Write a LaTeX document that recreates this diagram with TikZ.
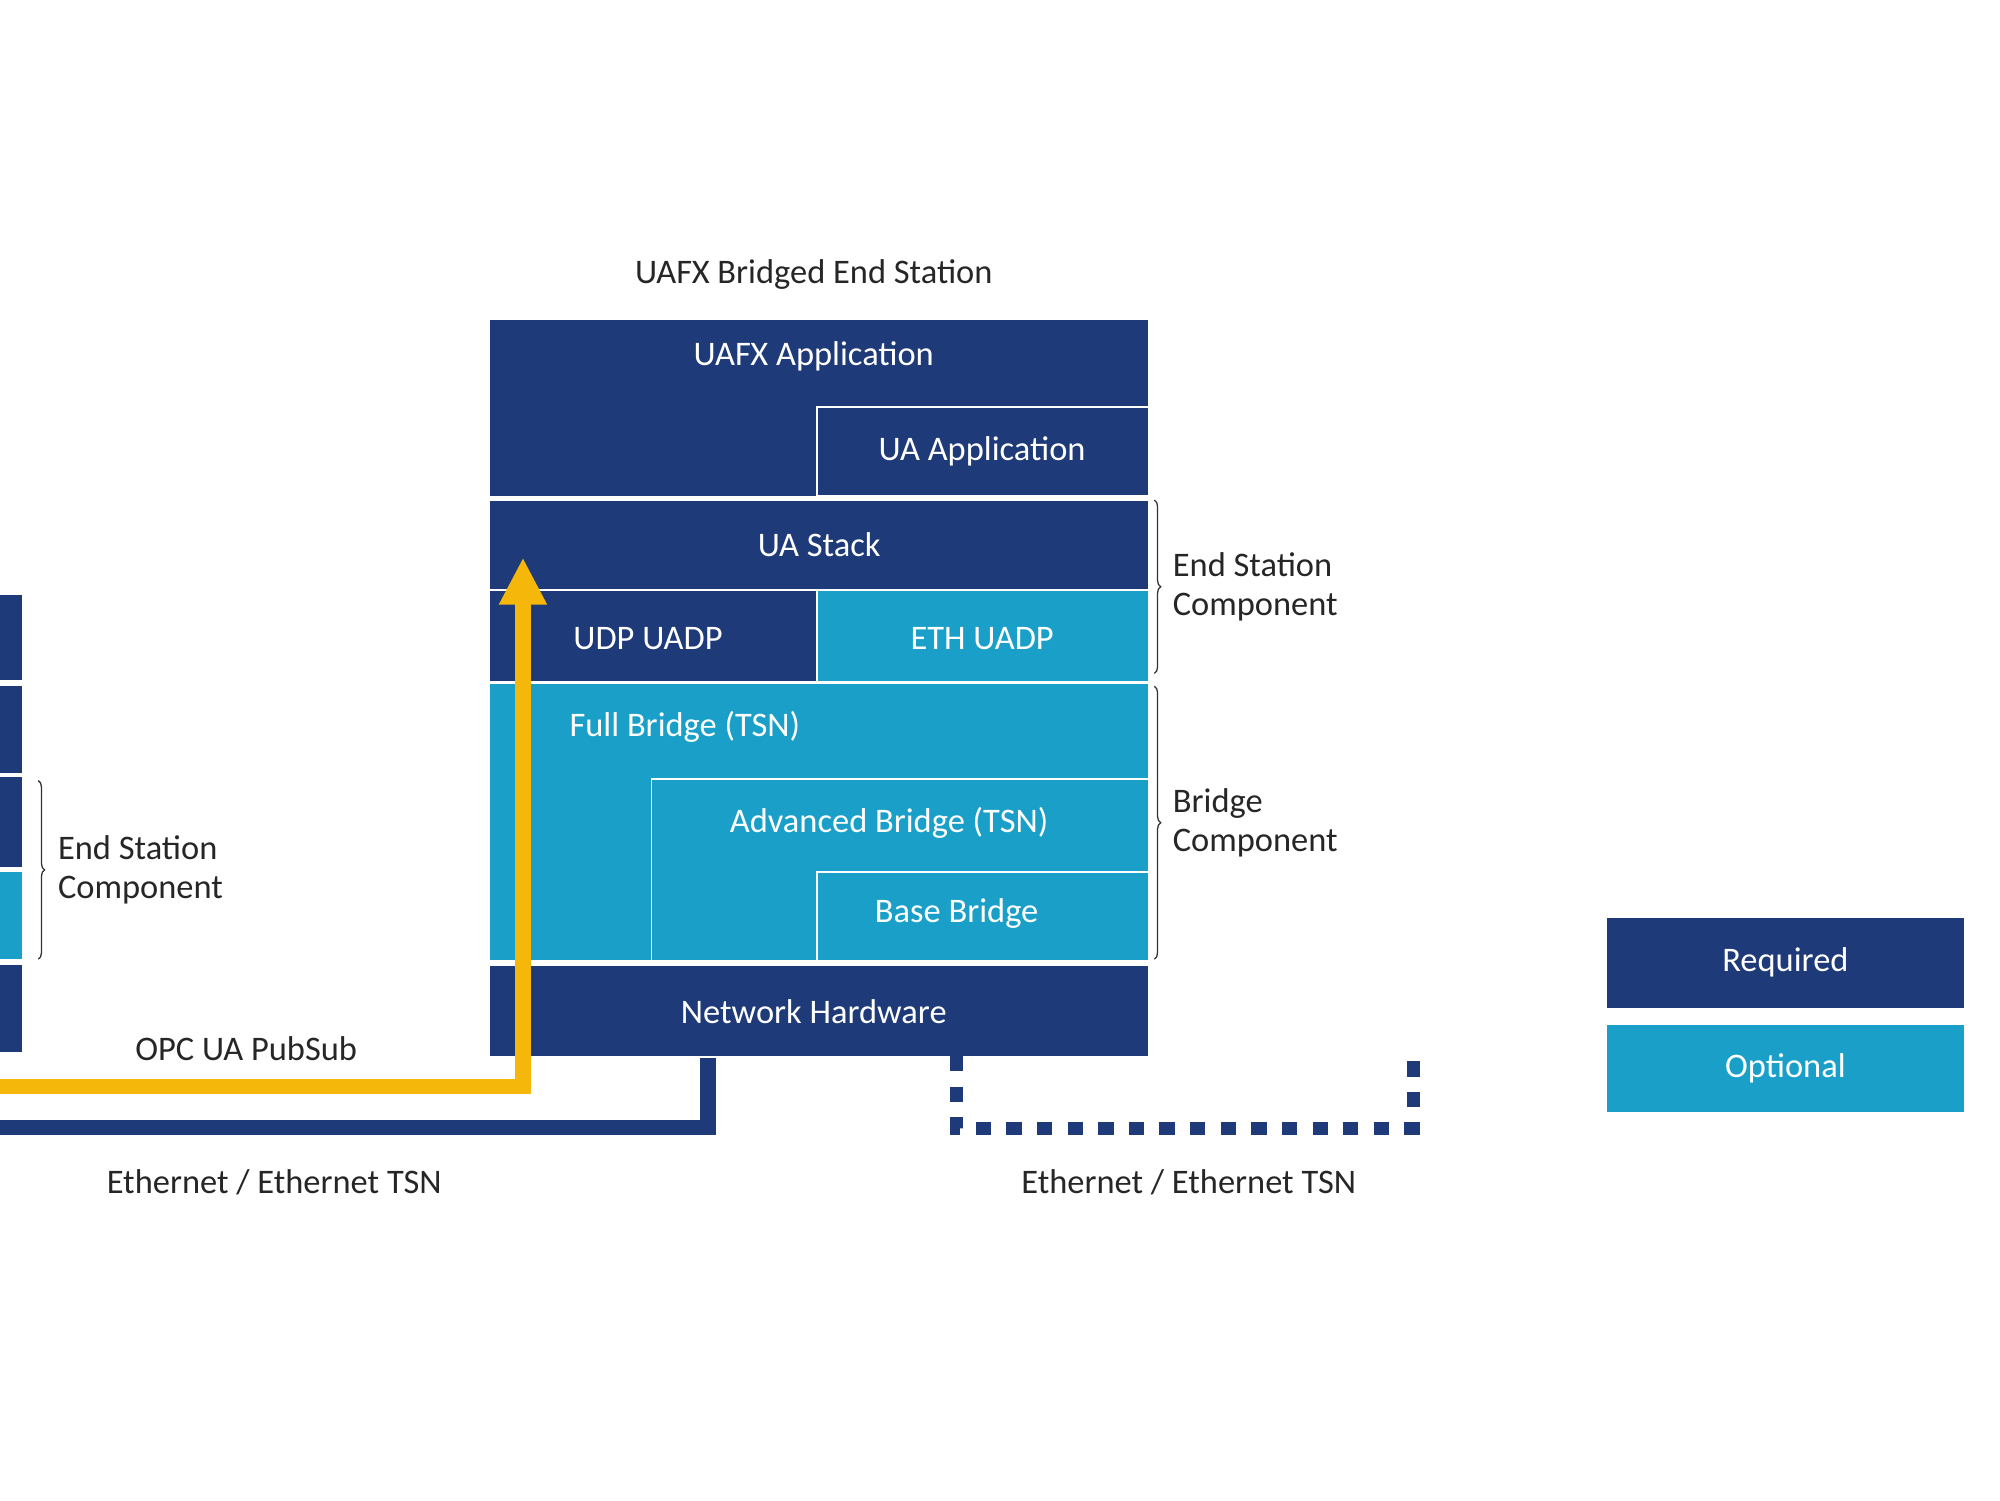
\documentclass[tikz,border=0pt]{standalone}
\usepackage{fontspec}
\setmainfont{Carlito}
\usetikzlibrary{decorations.pathreplacing,arrows.meta}
\definecolor{dk}{HTML}{1F3A78}
\definecolor{lt}{HTML}{1AA0C8}
\definecolor{yl}{HTML}{F5B80A}
\tikzset{
 box/.style={draw=white,line width=1.5pt,anchor=north west,inner sep=0pt},
 dkbox/.style={box,fill=dk},
 ltbox/.style={box,fill=lt},
 wt/.style={text=white,font=\fontsize{27}{30}\selectfont},
 bt/.style={text=black!85,font=\fontsize{27}{30}\selectfont,align=left},
 brc/.style={decorate,decoration={brace,amplitude=5pt},draw=black!80,line width=1pt}
}
\begin{document}
\begin{tikzpicture}[x=1pt,y=-1pt]
\useasboundingbox (0,0) rectangle (1568,1176);
% left partial stack
\node[dkbox,minimum width=22,minimum height=68] (l1) at (-5,465) {};
\node[dkbox,minimum width=22,minimum height=70] (l2) at (-5,536) {};
\node[dkbox,minimum width=22,minimum height=72] (l3) at (-5,608) {};
\node[ltbox,minimum width=22,minimum height=70] (l4) at (-5,682) {};
\node[dkbox,minimum width=22,minimum height=70] (l5) at (-5,755) {};
\draw[brc] (30,612) -- (30,752);
\node[bt,anchor=west] (les) at (42,682) {End Station\\Component};
% main stack
\node[bt,text=black!85] (title) at (638,215) {UAFX Bridged End Station};
\node[dkbox,minimum width=517,minimum height=140] (app) at (383,249) {};
\node[dkbox,minimum width=260,minimum height=70] (uaapp) at (640,318) {};
\node[wt] at (638,279) {UAFX Application};
\node[wt] at (770,354) {UA Application};
\node[dkbox,minimum width=517,minimum height=71] (stack) at (383,391) {};
\node[wt] at (stack) {UA Stack};
\node[dkbox,minimum width=257,minimum height=72] (udp) at (383,462) {};
\node[wt] at (508,501) {UDP UADP};
\node[ltbox,minimum width=260,minimum height=72] (eth) at (640,462) {};
\node[wt] at (770,501) {ETH UADP};
\node[ltbox,minimum width=517,minimum height=218] (full) at (383,535) {};
\node[wt,anchor=west] at (443,570) {Full Bridge (TSN)};
\node[ltbox,minimum width=390,minimum height=143] (adv) at (510,610) {};
\node[wt] at (697,645) {Advanced Bridge (TSN)};
\node[ltbox,minimum width=260,minimum height=70] (base) at (640,683) {};
\node[wt] at (750,716) {Base Bridge};
\node[dkbox,minimum width=517,minimum height=72] (nh) at (383,756) {};
\node[wt] at (638,793) {Network Hardware};
% braces
\draw[brc] (905,392) -- (905,528);
\node[bt,anchor=west] (esc) at (916,460) {End Station\\Component};
\draw[brc] (905,538) -- (905,752);
\node[bt,anchor=west] (bc) at (916,645) {Bridge\\Component};
% connectors
\coordinate (ys) at (-5,852);
\coordinate (ds) at (-5,884);
\coordinate (yt) at (410,438);
\draw[yl,line width=12pt] (ys) -| (410,470);
\fill[yl] (yt) -- (391,474) -- (429,474) -- cycle;
\draw[dk,line width=12pt] (ds) -| (nh.south -| 555,0);
\draw[dk,line width=10pt,dash pattern=on 12pt off 12pt] (750,828) |- (1108,885) -- (1108,830);
\node[bt] (pub) at (193,822) {OPC UA PubSub};
\node[bt] (e1) at (215,927) {Ethernet / Ethernet TSN};
\node[bt] (e2) at (932,927) {Ethernet / Ethernet TSN};
% legend
\node[dkbox,minimum width=282,minimum height=72] (req) at (1258,718) {};
\node[wt] at (req) {Required};
\node[ltbox,minimum width=282,minimum height=70] (opt) at (1258,802) {};
\node[wt] at (opt) {Optional};
\end{tikzpicture}
\end{document}
